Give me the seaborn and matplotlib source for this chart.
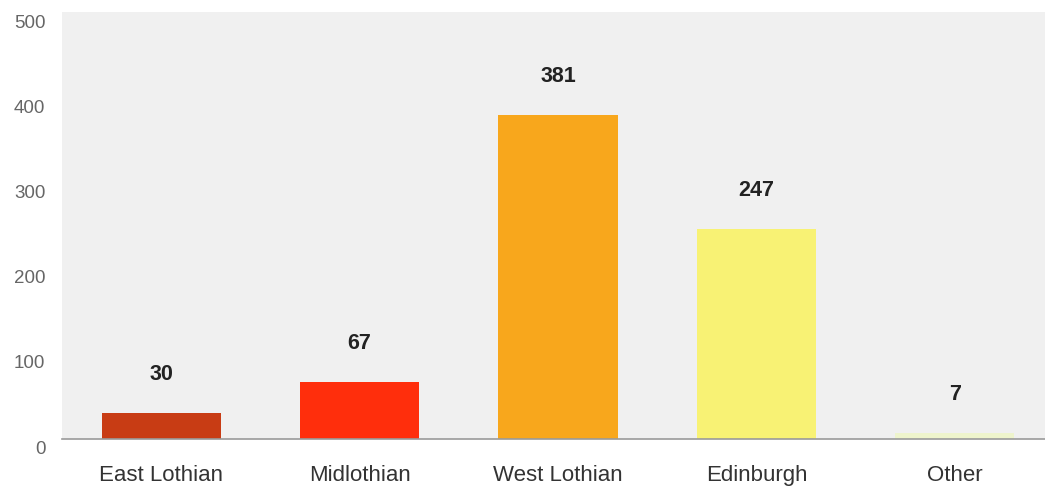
import matplotlib
matplotlib.use("Agg")
import matplotlib.pyplot as plt
import matplotlib.transforms as mtransforms
import seaborn as sns

# --- data ---
regions = ["East Lothian", "Midlothian", "West Lothian", "Edinburgh", "Other"]
counts = [30, 67, 381, 247, 7]
bar_colors = ["#c83c14", "#ff2e0c", "#f8a71c", "#f8f274", "#eef4cc"]
y_ticks = [0, 100, 200, 300, 400, 500]

sns.set_theme(style="white")
plt.rcParams['font.family'] = ['Liberation Sans', 'DejaVu Sans']

fig = plt.figure(figsize=(10.45, 4.92), dpi=100)
# axes run slightly past the right edge, like the cropped original
ax = fig.add_axes([62 / 1045, (492 - 439) / 492, (1054 - 62) / 1045, (439 - 12) / 492])
ax.set_facecolor("#f0f0f0")

sns.barplot(x=regions, y=counts, hue=regions, palette=bar_colors,
            width=0.6, saturation=1, legend=False, linewidth=0, ax=ax)

for i, v in enumerate(counts):
    ax.annotate(str(v), (i, v), xytext=(0, 28), textcoords="offset points",
                ha="center", va="center", fontsize=15.5, fontweight="bold",
                color="#222222")

ax.set_xlim(-0.5, 4.5)
ax.set_ylim(0, 502)
ax.set_yticks(y_ticks)
ax.set_xlabel("")
ax.set_ylabel("")

for s in ["top", "right", "left"]:
    ax.spines[s].set_visible(False)
ax.spines["bottom"].set_color("#9a9a9a")
ax.spines["bottom"].set_linewidth(1.2)

ax.tick_params(axis="x", length=0, pad=19, labelsize=16, labelcolor="#333333")
ax.tick_params(axis="y", length=0, pad=12, labelsize=13.5, labelcolor="#666666")
# y labels sit a few pixels low in the original
off = mtransforms.ScaledTranslation(0, -8 / 100, fig.dpi_scale_trans)
for lab in ax.get_yticklabels():
    lab.set_transform(lab.get_transform() + off)
    lab.set_horizontalalignment("right")

fig.savefig("out.png", dpi=100, facecolor="white")
